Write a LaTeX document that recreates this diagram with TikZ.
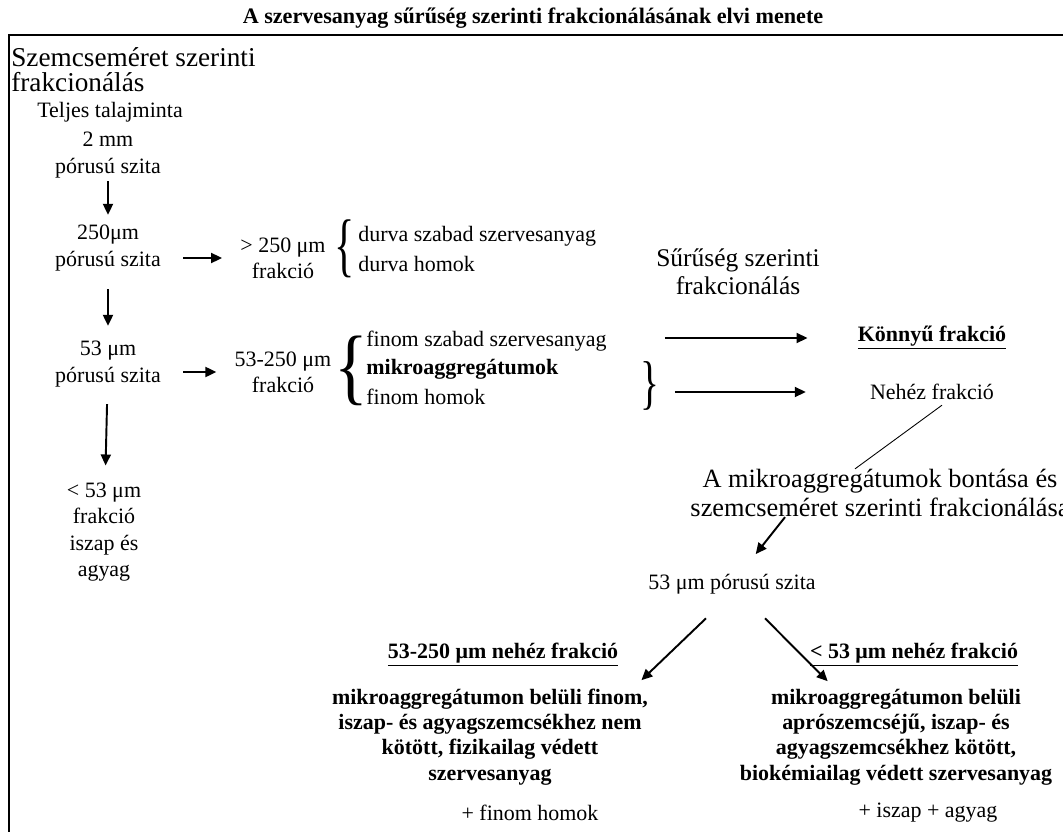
\documentclass[tikz,border=0pt]{standalone}
\usepackage{fontspec}
\setmainfont{Liberation Serif}
\usepackage{tikz}
\usetikzlibrary{arrows.meta,positioning,calc}
\tikzset{
  txt/.style  = {inner sep=0pt, align=center, font=\fontsize{12.5}{15}\selectfont},
  bld/.style  = {inner sep=0pt, align=center, font=\fontsize{12.5}{14.4}\selectfont\bfseries},
  head/.style = {inner sep=0pt, align=center, font=\fontsize{15}{16.5}\selectfont},
  ttl/.style  = {inner sep=0pt, font=\fontsize{12.6}{14}\selectfont\bfseries},
  brc/.style  = {inner sep=0pt},
  arr/.style  = {-{Triangle[length=2.2mm,width=2mm]}, line width=1.1pt},
  ln/.style   = {line width=0.5pt},
  frame/.style= {line width=1.2pt},
}
\begin{document}
\begin{tikzpicture}[x=0.02cm,y=-0.02cm]
\useasboundingbox (0,0) rectangle (1063,832);
\clip (0,0) rectangle (1063,832);
\draw[frame] (1070,35) -- (9,35) -- (9,840);
\node[ttl] (title) at (533,18) {A szervesanyag sűrűség szerinti frakcionálásának elvi menete};

% szemcseméret szerinti frakcionálás
\node[head, font=\fontsize{15.5}{16}\selectfont, anchor=base west] (szem1) at (11,66) {Szemcseméret szerinti};
\node[head, font=\fontsize{15.5}{16}\selectfont, anchor=base west] (szem2) at (11,91) {frakcionálás};
\node[txt] (teljes) at (110,112) {Teljes talajminta};
\node[txt] (mm2) at (108,155) {2 mm\\pórusú szita};
\node[txt] (s250) at (108,248) {250μm\\pórusú szita};
\node[txt] (s53) at (108,364) {53 μm\\pórusú szita};
\node[txt] (f53) at (104,532) {< 53 μm\\frakció\\iszap és\\agyag};
\draw[arr, shorten <=0.06cm, shorten >=0.2cm] (mm2) -- (s250);
\draw[arr, shorten <=0.36cm, shorten >=0.3cm] (s250) -- (s53);
\draw[arr, shorten <=0.34cm, shorten >=0.34cm] (s53) -- (f53);

\node[txt] (f250) at (283,258) {> 250 μm\\frakció};
\node[txt] (f53250) at (283,372) {53-250 μm\\frakció};
\draw[arr, shorten <=4.4mm, shorten >=3.6mm] (s250.east |- f250.west) -- (f250.west);
\draw[arr, shorten <=4.4mm, shorten >=3.6mm] (s53.east |- f53250.west) -- (f53250.west);

\node[brc] (br1) at (345,249) {\scalebox{0.75}[1.25]{\fontsize{32}{32}\selectfont\{}};
\node[brc] (br2) at (351,371) {\scalebox{1}[1.2]{\fontsize{40}{40}\selectfont\{}};
\node[txt, anchor=base west] (dszab) at (358,241) {durva szabad szervesanyag};
\node[txt, anchor=base west] (dhom) at (358,271) {durva homok};
\node[txt, anchor=base west] (fszab) at (366,346) {finom szabad szervesanyag};
\node[bld, anchor=base west] (mikro) at (366,374) {mikroaggregátumok};
\node[txt, anchor=base west] (fhom) at (366,404) {finom homok};

% sűrűség szerinti frakcionálás
\node[head, font=\fontsize{14.5}{16}\selectfont] (sur) at (738,272) {Sűrűség szerinti\\frakcionálás};
\node[brc] (rbr) at (650,386) {\scalebox{0.8}[1.2]{\fontsize{28}{28}\selectfont\}}};
\node[bld] (konnyu) at (932,338) {\underline{Könnyű frakció}};
\node[txt] (nehez) at (932,392) {Nehéz frakció};
\draw[arr, shorten <=0.1cm, shorten >=1cm] (rbr.east |- konnyu.west) -- (konnyu.west);
\draw[arr, shorten <=0.3cm, shorten >=1.28cm] (rbr.east |- nehez.west) -- (nehez.west);

% mikroaggregátumok bontása
\node[head] (bontas) at (880,493) {A mikroaggregátumok bontása és\\szemcseméret szerinti frakcionálása};
\draw[ln] ([xshift=0.2cm,yshift=-0.1cm]nehez.south) -- ([xshift=-0.5cm]bontas.north);
\node[txt] (szita53) at (732,584) {53 μm pórusú szita};
\draw[arr, shorten >=0.5cm] ([xshift=-1.9cm]bontas.south) -- (szita53);

\node[bld] (h1) at (503,655) {\underline{53-250 μm nehéz frakció}};
\node[bld] (h2) at (914,655) {\underline{< 53 μm nehéz frakció}};
\draw[arr] ([xshift=-0.52cm,yshift=-0.48cm]szita53.south) -- ([xshift=0.46cm,yshift=-0.26cm]h1.south east);
\draw[arr] ([xshift=0.66cm,yshift=-0.48cm]szita53.south) -- ([xshift=0.36cm,yshift=-0.28cm]h2.south west);

\node[bld] (blk1) at (490,737) {mikroaggregátumon belüli finom,\\iszap- és agyagszemcsékhez nem\\kötött, fizikailag védett\\szervesanyag};
\node[bld] (blk2) at (896,737) {mikroaggregátumon belüli\\aprószemcséjű, iszap- és\\agyagszemcsékhez kötött,\\biokémiailag védett szervesanyag};
\node[txt] (plus1) at (530,813) {+ finom homok};
\node[txt] (plus2) at (928,813) {+ iszap + agyag};
\end{tikzpicture}
\end{document}
